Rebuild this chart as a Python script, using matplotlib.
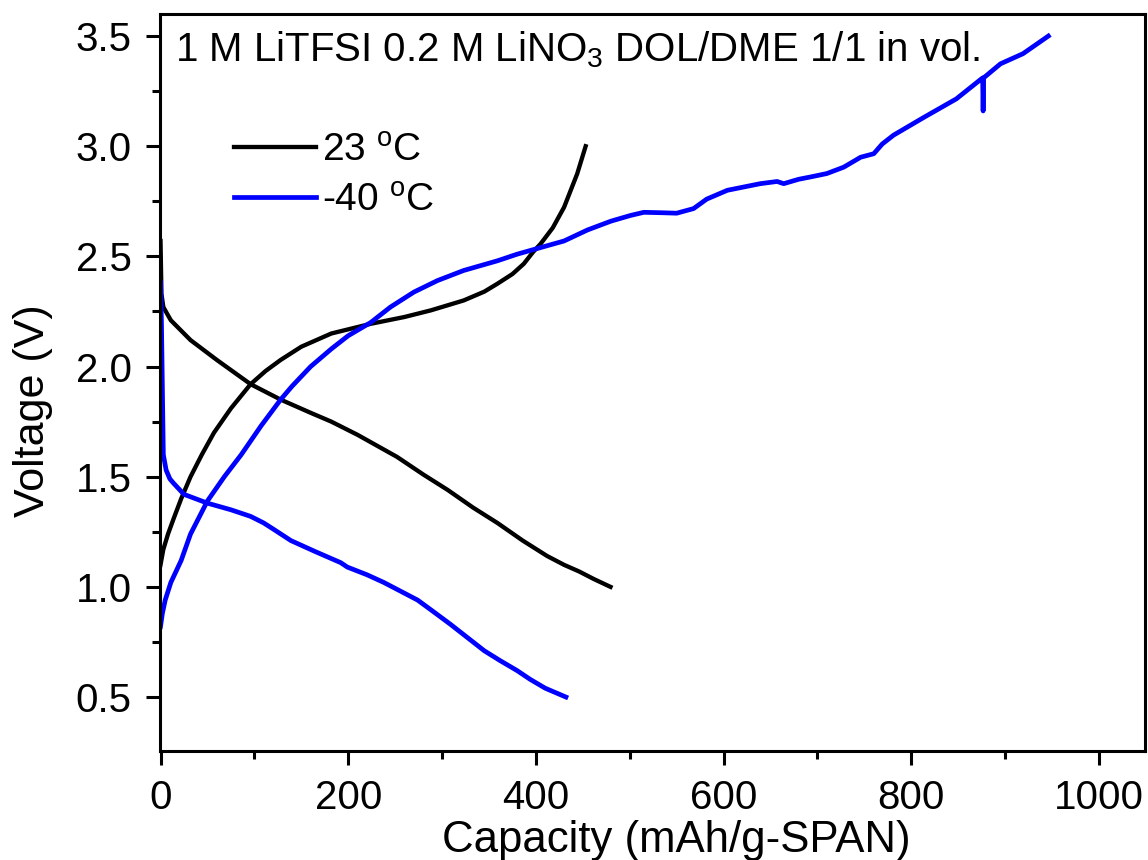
import matplotlib.pyplot as plt
from matplotlib.ticker import MultipleLocator

plt.rcParams['font.family'] = ['Liberation Sans', 'DejaVu Sans']
plt.rcParams['mathtext.fontset'] = 'custom'
plt.rcParams['mathtext.rm'] = 'Liberation Sans'

# 23 C discharge / charge (capacity in mAh/g-SPAN, voltage in V)
rt_dis_cap = [0, 0.5, 1, 3, 11, 32, 60, 96, 128, 160, 182, 210, 252, 280,
              306, 333, 359, 386, 412, 430, 446, 462, 479.5]
rt_dis_v = [2.57, 2.45, 2.33, 2.27, 2.21, 2.12, 2.03, 1.92, 1.85, 1.79, 1.75,
            1.69, 1.59, 1.51, 1.44, 1.36, 1.29, 1.21, 1.14, 1.10, 1.07, 1.035, 1.0]
rt_chg_cap = [0, 3, 8, 14, 22, 32, 44, 57, 75, 96, 112, 128, 150, 182, 224,
              260, 288, 323, 345, 359, 375, 387, 397, 405, 418, 430, 444, 453]
rt_chg_v = [1.10, 1.17, 1.24, 1.31, 1.40, 1.50, 1.60, 1.70, 1.81, 1.92, 1.98,
            2.03, 2.09, 2.15, 2.194, 2.225, 2.255, 2.30, 2.34, 2.376, 2.42,
            2.466, 2.52, 2.557, 2.63, 2.723, 2.875, 3.0]

# -40 C discharge / charge
lt_dis_cap = [0, 1, 2, 3, 6, 10, 14, 25, 50, 75, 96, 110, 121, 139, 165, 192,
              199, 220, 238, 256, 274, 290, 309, 327, 345, 362, 380, 394, 410, 432]
lt_dis_v = [2.38, 2.2, 1.9, 1.60, 1.53, 1.49, 1.47, 1.42, 1.38, 1.35, 1.32,
            1.29, 1.26, 1.21, 1.16, 1.11, 1.09, 1.055, 1.02, 0.98, 0.94, 0.89,
            0.83, 0.77, 0.71, 0.665, 0.62, 0.58, 0.54, 0.50]
lt_chg_cap = [0, 2, 5, 8, 11, 22, 32, 50, 68, 86, 107, 128, 140, 160, 182, 200,
              224, 245, 270, 295, 323, 359, 380, 405, 430, 455, 480, 501, 515,
              535, 550, 568, 582, 604, 639, 657, 664, 680, 692, 710, 728, 746,
              760, 769, 781, 813, 848, 873, 876, 876.5, 877, 895, 919, 946]
lt_chg_v = [0.82, 0.88, 0.94, 0.98, 1.02, 1.12, 1.24, 1.39, 1.50, 1.60, 1.73,
            1.85, 1.91, 2.0, 2.08, 2.14, 2.20, 2.27, 2.338, 2.39, 2.436, 2.48,
            2.51, 2.54, 2.57, 2.62, 2.66, 2.686, 2.70, 2.698, 2.696, 2.717,
            2.76, 2.80, 2.83, 2.84, 2.83, 2.85, 2.86, 2.876, 2.905, 2.95,
            2.966, 3.01, 3.05, 3.13, 3.215, 3.30, 3.31, 3.16, 3.31, 3.374,
            3.42, 3.50]

fig = plt.figure(figsize=(11.48, 8.6), dpi=100)
ax = fig.add_axes([0.139, 0.1267, 0.8584, 0.857])

ax.plot(rt_dis_cap, rt_dis_v, color='black', lw=3.1, label='23 $^\\mathregular{o}$C')
ax.plot(rt_chg_cap, rt_chg_v, color='black', lw=3.1)
ax.plot(lt_dis_cap, lt_dis_v, color='#0000ff', lw=3.4, label='-40 $^\\mathregular{o}$C')
ax.plot(lt_chg_cap, lt_chg_v, color='#0000ff', lw=3.4)

ax.set_xlim(-1, 1049)
ax.set_ylim(0.255, 3.6)
ax.xaxis.set_major_locator(MultipleLocator(200))
ax.xaxis.set_minor_locator(MultipleLocator(100))
ax.yaxis.set_major_locator(MultipleLocator(0.5))
ax.yaxis.set_minor_locator(MultipleLocator(0.25))
ax.yaxis.set_major_formatter(plt.FormatStrFormatter('%.1f'))

for s in ax.spines.values():
    s.set_linewidth(2.2)
ax.tick_params(which='both', direction='out', width=2.2, top=False, right=False)
ax.tick_params(which='major', length=10, pad=10, labelsize=29)
ax.tick_params(which='minor', length=6)

ax.set_xlabel('Capacity (mAh/g-SPAN)', fontsize=31.5)
ax.set_ylabel('Voltage (V)', fontsize=31)
ax.xaxis.set_label_coords(0.524, -0.094)
ax.yaxis.set_label_coords(-0.108, 0.462)

ax.text(0.016, 0.951, '1 M LiTFSI 0.2 M LiNO$_\\mathregular{3}$ DOL/DME 1/1 in vol.',
        transform=ax.transAxes, fontsize=29, va='center', ha='left')

ax.legend(loc='upper left', bbox_to_anchor=(0.0756, 0.839), frameon=False,
          fontsize=28, handlelength=2.1, handletextpad=0.15, labelspacing=0.36,
          borderpad=0, borderaxespad=0)

fig.savefig('out.png', dpi=100)
